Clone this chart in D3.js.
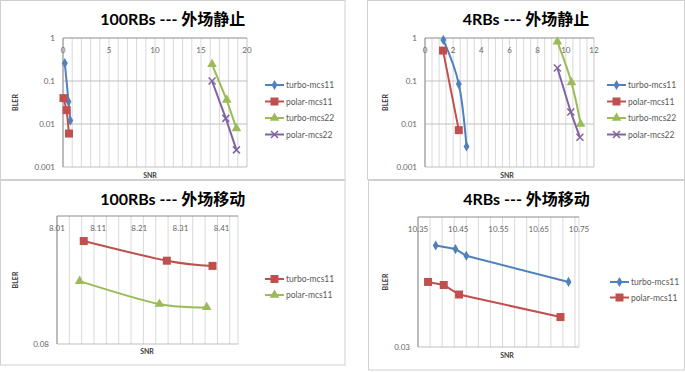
<!DOCTYPE html>
<html>
<head>
<meta charset="utf-8">
<script src="https://cdn.jsdelivr.net/npm/d3@7"></script>
<style>
  body { margin: 0; background: #fff; }
  svg { display: block; font-family: Lato, "Noto Sans CJK SC", sans-serif; }
</style>
</head>
<body>
<svg id="chart" width="685" height="372"></svg>
<script>
// chart text
const TITLES = ['100RBs --- 外场静止', '4RBs --- 外场静止', '100RBs --- 外场移动', '4RBs --- 外场移动']
const STATIC_NAMES = ['turbo-mcs11', 'polar-mcs11', 'turbo-mcs22', 'polar-mcs22']
const MOVING_NAMES = ['turbo-mcs11', 'polar-mcs11']

// tick labels
const X_TICKS = [[0, 5, 10, 15, 20], [0, 2, 4, 6, 8, 10, 12],
                 [8.01, 8.11, 8.21, 8.31, 8.41], [10.35, 10.45, 10.55, 10.65, 10.75]]
const Y_TICKS = [[1, 0.1, 0.01, 0.001], [1, 0.1, 0.01, 0.001], [0.08], [0.03]]

// 100RBs static  (one inner list per series)
const rb100StaticSnr  = [[0.2, 0.6, 0.8], [0.05, 0.4, 0.65], [16.2, 17.8, 18.85], [16.2, 17.7, 18.85]]
const rb100StaticBler = [[0.26, 0.033, 0.012], [0.04, 0.021, 0.006], [0.245, 0.036, 0.0079], [0.1, 0.0135, 0.0025]]

// 4RBs static
const rb4StaticSnr  = [[1.3, 2.4, 2.95], [1.28, 2.4], [9.4, 10.4, 11.05], [9.4, 10.35, 11.0]]
const rb4StaticBler = [[0.9, 0.085, 0.003], [0.51, 0.0072], [0.82, 0.092, 0.01], [0.2, 0.019, 0.0049]]

// 100RBs moving
const rb100MovingSnr  = [[8.075, 8.277, 8.388], [8.065, 8.259, 8.374]]
const rb100MovingBler = [[0.51, 0.358, 0.326], [0.248, 0.164, 0.155]]

// 4RBs moving
const rb4MovingSnr  = [[10.394, 10.443, 10.47, 10.724], [10.375, 10.414, 10.452, 10.704]]
const rb4MovingBler = [[0.181, 0.17, 0.151, 0.095], [0.095, 0.09, 0.076, 0.051]]

const COLORS = { blue: '#4F81BD', red: '#C0504D', green: '#9BBB59', purple: '#8064A2' }

const svg = d3.select('#chart')

// panel layout
const panels = [
  { box: [0.5, 0.5, 344.5, 179], plot: { l: 63, r: 247, t: 38, b: 167 }, xDom: [0, 20], minor: 1,
    yDom: [0.001, 1], snr: rb100StaticSnr, bler: rb100StaticBler, names: STATIC_NAMES,
    colors: ['blue', 'red', 'green', 'purple'], marks: ['diamond', 'square', 'triangle', 'x'],
    smooth: [false, false, false, false], leg: { x: 265, y: 85, gap: 16.5 }, bler_x: 15, snr_x: 150, snr_y: 175 },
  { box: [367.5, 0.5, 317, 179], plot: { l: 425, r: 594, t: 38, b: 167 }, xDom: [0, 12], minor: 0.5,
    yDom: [0.001, 1], snr: rb4StaticSnr, bler: rb4StaticBler, names: STATIC_NAMES,
    colors: ['blue', 'red', 'green', 'purple'], marks: ['diamond', 'square', 'triangle', 'x'],
    smooth: [true, false, true, false], leg: { x: 607, y: 85, gap: 16.5 }, bler_x: 385, snr_x: 507, snr_y: 175 },
  { box: [0.5, 180.5, 344.5, 184.5], plot: { l: 57, r: 238, t: 216, b: 344 }, xDom: [8.01, 8.45], minor: 0.03,
    yDom: [0.08, 0.8], snr: rb100MovingSnr, bler: rb100MovingBler, names: MOVING_NAMES,
    colors: ['red', 'green'], marks: ['square', 'triangle'],
    smooth: [true, true], leg: { x: 265, y: 279, gap: 16 }, bler_x: 15, snr_x: 147, snr_y: 351 },
  { box: [368.5, 180.5, 316, 189.5], plot: { l: 418, r: 579, t: 217, b: 347 }, xDom: [10.35, 10.75], minor: 0.03,
    yDom: [0.03, 0.3], snr: rb4MovingSnr, bler: rb4MovingBler, names: MOVING_NAMES,
    colors: ['blue', 'red'], marks: ['diamond', 'square'],
    smooth: [false, false], leg: { x: 610, y: 282, gap: 15.5 }, bler_x: 385, snr_x: 507, snr_y: 355 }
]

function marker(g, type, x, y, color) {
  if (type === 'diamond') {
    g.append('path').attr('d', d3.symbol(d3.symbolDiamond, 30)()).attr('transform', `translate(${x},${y})`)
      .attr('fill', color)
  } else if (type === 'square') {
    g.append('rect').attr('x', x - 4).attr('y', y - 4).attr('width', 8).attr('height', 8).attr('fill', color)
  } else if (type === 'triangle') {
    g.append('path').attr('d', d3.symbol(d3.symbolTriangle, 40)()).attr('transform', `translate(${x},${y})`)
      .attr('fill', color)
  } else {
    g.append('path').attr('d', `M${x - 3.5},${y - 3.5}L${x + 3.5},${y + 3.5}M${x - 3.5},${y + 3.5}L${x + 3.5},${y - 3.5}`)
      .attr('stroke', color).attr('stroke-width', 1.5)
  }
}

panels.forEach((p, i) => {
  const g = svg.append('g')
  const [bx, by, bw, bh] = p.box
  g.append('rect').attr('x', bx).attr('y', by).attr('width', bw).attr('height', bh)
    .attr('fill', '#fff').attr('stroke', '#D0D0D0')

  const x = d3.scaleLinear().domain(p.xDom).range([p.plot.l, p.plot.r])
  const y = d3.scaleLog().domain(p.yDom).range([p.plot.b, p.plot.t])

  // minor vertical grid
  const n = Math.round((p.xDom[1] - p.xDom[0]) / p.minor)
  const vg = d3.range(0, n + 1).map(k => p.xDom[0] + k * p.minor).filter(v => v <= p.xDom[1] + 1e-9)
  g.append('g').selectAll('line').data(vg).join('line')
    .attr('x1', d => x(d)).attr('x2', d => x(d)).attr('y1', p.plot.t).attr('y2', p.plot.b)
    .attr('stroke', '#D9D9D9').attr('stroke-width', 1)
  g.append('line').attr('x1', p.plot.r).attr('x2', p.plot.r).attr('y1', p.plot.t).attr('y2', p.plot.b)
    .attr('stroke', '#D9D9D9')

  // horizontal major grid
  const hg = Y_TICKS[i].filter(v => v > p.yDom[0] && v < p.yDom[1])
  g.append('g').selectAll('line').data(hg).join('line')
    .attr('x1', p.plot.l).attr('x2', p.plot.r).attr('y1', d => y(d)).attr('y2', d => y(d))
    .attr('stroke', '#BFBFBF')
  g.append('line').attr('x1', p.plot.l).attr('x2', p.plot.r).attr('y1', p.plot.b).attr('y2', p.plot.b)
    .attr('stroke', '#BFBFBF')

  // axes (x axis sits on top of a log axis)
  g.append('line').attr('x1', p.plot.l).attr('x2', p.plot.l).attr('y1', p.plot.t).attr('y2', p.plot.b)
    .attr('stroke', '#8C8C8C')
  g.append('line').attr('x1', p.plot.l).attr('x2', p.plot.r).attr('y1', p.plot.t).attr('y2', p.plot.t)
    .attr('stroke', '#8C8C8C')

  g.append('g').selectAll('text').data(X_TICKS[i]).join('text')
    .attr('x', d => x(d)).attr('y', p.plot.t + 15)
    .attr('text-anchor', 'middle').attr('font-size', 8).attr('fill', '#666')
    .text(d => i < 2 ? d : d.toFixed(2))
  g.append('g').selectAll('text').data(Y_TICKS[i]).join('text')
    .attr('x', p.plot.l - 8).attr('y', d => y(d) + 3)
    .attr('text-anchor', 'end').attr('font-size', 8).attr('fill', '#666')
    .text(d => d)

  // title + axis titles
  g.append('text').attr('x', bx + bw / 2).attr('y', by + 24).attr('text-anchor', 'middle')
    .attr('font-size', 16).attr('font-weight', 'bold').attr('fill', '#000').text(TITLES[i])
  g.append('text').attr('transform', `translate(${p.bler_x},${(p.plot.t + p.plot.b) / 2}) rotate(-90)`)
    .attr('text-anchor', 'middle').attr('dy', 3).attr('font-size', 7).attr('font-weight', 'bold')
    .attr('fill', '#404040').text('BLER')
  g.append('text').attr('x', p.snr_x).attr('y', p.snr_y + 3).attr('text-anchor', 'middle')
    .attr('font-size', 7).attr('font-weight', 'bold').attr('fill', '#404040').text('SNR')

  // series
  p.names.forEach((name, s) => {
    const col = COLORS[p.colors[s]]
    const pts = p.snr[s].map((v, k) => [x(v), y(p.bler[s][k])])
    const line = d3.line().curve(p.smooth[s] ? d3.curveCatmullRom.alpha(0) : d3.curveLinear)
    g.append('path').attr('d', line(pts)).attr('fill', 'none').attr('stroke', col).attr('stroke-width', 2)
    pts.forEach(pt => marker(g, p.marks[s], pt[0], pt[1], col))

    const ly = p.leg.y + s * p.leg.gap
    g.append('line').attr('x1', p.leg.x).attr('x2', p.leg.x + 19).attr('y1', ly).attr('y2', ly)
      .attr('stroke', col).attr('stroke-width', 2)
    marker(g, p.marks[s], p.leg.x + 9.5, ly, col)
    g.append('text').attr('x', p.leg.x + 21).attr('y', ly + 3).attr('font-size', 8.5).attr('fill', '#595959')
      .text(name)
  })
})
</script>
</body>
</html>
